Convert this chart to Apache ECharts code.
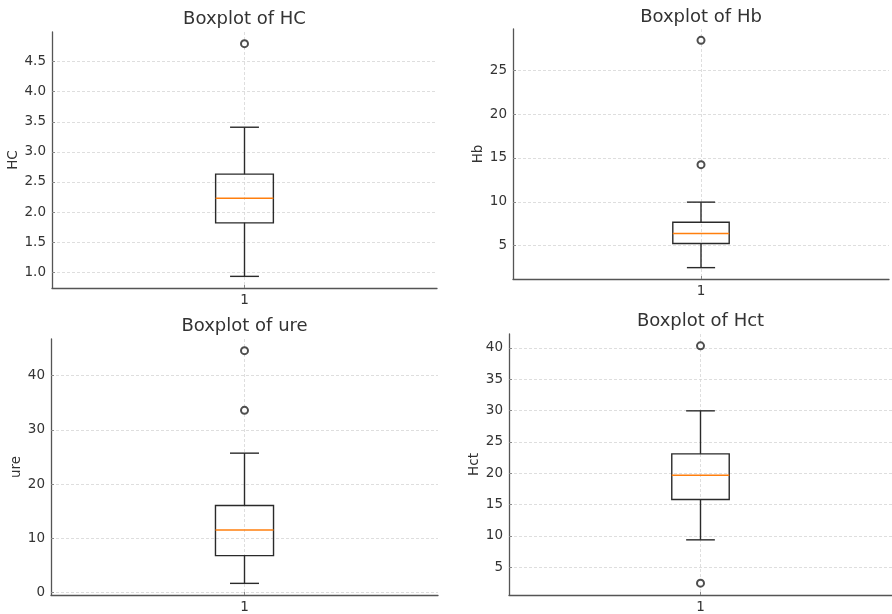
<!DOCTYPE html>
<html>
<head>
<meta charset="utf-8">
<script src="https://cdn.jsdelivr.net/npm/echarts@6/dist/echarts.min.js"></script>
<style>
html,body{margin:0;padding:0;background:#fff;}
#chart{width:892px;height:614px;}
</style>
</head>
<body>
<div id="chart"></div>
<script>
// ---- data ----
const variables = ['HC', 'Hb', 'ure', 'Hct'];
const categories = ['1'];
// [whisker low, Q1, median, Q3, whisker high]
const hcBox  = [0.93, 1.82, 2.23, 2.63, 3.41];
const hbBox  = [2.48, 5.23, 6.37, 7.67, 9.96];
const ureBox = [1.70, 6.81, 11.55, 16.05, 25.72];
const hctBox = [9.36, 15.80, 19.68, 23.08, 29.95];
const hcOutliers  = [4.80];
const hbOutliers  = [28.43, 14.24];
const ureOutliers = [44.63, 33.62];
const hctOutliers = [40.32, 2.45];
const hcTicks  = [1.0, 1.5, 2.0, 2.5, 3.0, 3.5, 4.0, 4.5];
const hbTicks  = [5, 10, 15, 20, 25];
const ureTicks = [0, 10, 20, 30, 40];
const hctTicks = [5, 10, 15, 20, 25, 30, 35, 40];

// ---- layout / style ----
const FONT = 'DejaVu Sans';
const TEXT = '#333';
const grids = [
  {left: 52,  top: 32,  width: 385, height: 256},
  {left: 513, top: 29,  width: 376, height: 250},
  {left: 51,  top: 339, width: 387, height: 260},
  {left: 509, top: 334, width: 383, height: 261}
];
const titleTops = [10, 8, 317, 312];
const nameGaps = [31, 25, 28, 28];
const BOX_W = 0.15;

const boxes = [hcBox, hbBox, ureBox, hctBox];
const outliers = [hcOutliers, hbOutliers, ureOutliers, hctOutliers];
const ticks = [hcTicks, hbTicks, ureTicks, hctTicks];
const steps = [0.5, 5, 10, 5];
const fmts = [v => Number(v).toFixed(1), v => String(v), v => String(v), v => String(v)];

const option = {
  animation: false,
  backgroundColor: '#fff',
  textStyle: {fontFamily: FONT, color: TEXT},
  title: [], grid: [], xAxis: [], yAxis: [], series: []
};

variables.forEach((name, i) => {
  const g = grids[i];
  const all = boxes[i].concat(outliers[i]);
  const lo = Math.min(...all), hi = Math.max(...all);
  const pad = (hi - lo) * 0.05;
  option.grid.push({left: g.left, top: g.top, width: g.width, height: g.height, containLabel: false});
  option.title.push({
    text: 'Boxplot of ' + name,
    left: g.left + g.width / 2, top: titleTops[i], textAlign: 'center', padding: 0,
    textStyle: {fontFamily: FONT, fontSize: 18, fontWeight: 'normal', color: TEXT}
  });
  option.xAxis.push({
    type: 'value', gridIndex: i, min: 0.5, max: 1.5, interval: 0.5,
    axisLine: {show: true, onZero: false, lineStyle: {color: '#555', width: 1.3}},
    axisTick: {show: true, inside: true, length: 3, customValues: [1], lineStyle: {color: '#888'}},
    axisLabel: {customValues: [1], formatter: v => categories[0], fontFamily: FONT, fontSize: 13.5, color: TEXT, margin: 5},
    splitLine: {show: true, lineStyle: {color: '#d6d6d6', type: [3, 2], width: 0.8}}
  });
  option.yAxis.push({
    type: 'value', gridIndex: i, min: lo - pad, max: hi + pad,
    minInterval: steps[i], maxInterval: steps[i],
    name: name, nameLocation: 'middle', nameGap: nameGaps[i],
    nameTextStyle: {fontFamily: FONT, fontSize: 13.5, color: TEXT},
    axisLine: {show: true, onZero: false, lineStyle: {color: '#555', width: 1.3}},
    axisTick: {show: true, inside: true, length: 3, customValues: ticks[i], lineStyle: {color: '#888'}},
    axisLabel: {customValues: ticks[i], formatter: fmts[i], fontFamily: FONT, fontSize: 13.5, color: TEXT, margin: 6},
    splitLine: {show: true, lineStyle: {color: '#d6d6d6', type: [3, 2], width: 0.8}}
  });
  option.series.push({
    type: 'custom', xAxisIndex: i, yAxisIndex: i, z: 3,
    data: [[1].concat(boxes[i])],
    encode: {x: 0, y: [1, 2, 3, 4, 5]},
    renderItem: function (params, api) {
      const x = api.value(0);
      const wlo = api.value(1), q1 = api.value(2), med = api.value(3), q3 = api.value(4), whi = api.value(5);
      const hw = BOX_W / 2, cw = BOX_W / 4;
      const a = api.coord([x - hw, q3]);
      const b = api.coord([x + hw, q1]);
      const line = (x1, y1, x2, y2, color) => {
        const p1 = api.coord([x1, y1]), p2 = api.coord([x2, y2]);
        return {type: 'line', shape: {x1: p1[0], y1: p1[1], x2: p2[0], y2: p2[1]},
                style: {stroke: color || '#2a2a2a', lineWidth: 1.4}};
      };
      return {type: 'group', children: [
        {type: 'rect', shape: {x: a[0], y: a[1], width: b[0] - a[0], height: b[1] - a[1]},
         style: {fill: 'none', stroke: '#2a2a2a', lineWidth: 1.4}},
        line(x, q1, x, wlo), line(x, q3, x, whi),
        line(x - cw, wlo, x + cw, wlo), line(x - cw, whi, x + cw, whi),
        line(x - hw, med, x + hw, med, '#ff7f0e')
      ]};
    }
  });
  option.series.push({
    type: 'scatter', xAxisIndex: i, yAxisIndex: i, z: 4,
    symbol: 'emptyCircle', symbolSize: 7,
    itemStyle: {color: '#222', borderColor: '#222', borderWidth: 1.1},
    data: outliers[i].map(v => [1, v])
  });
});

const chart = echarts.init(document.getElementById('chart'), null, {renderer: 'canvas'});
chart.setOption(option);
</script>
</body>
</html>
